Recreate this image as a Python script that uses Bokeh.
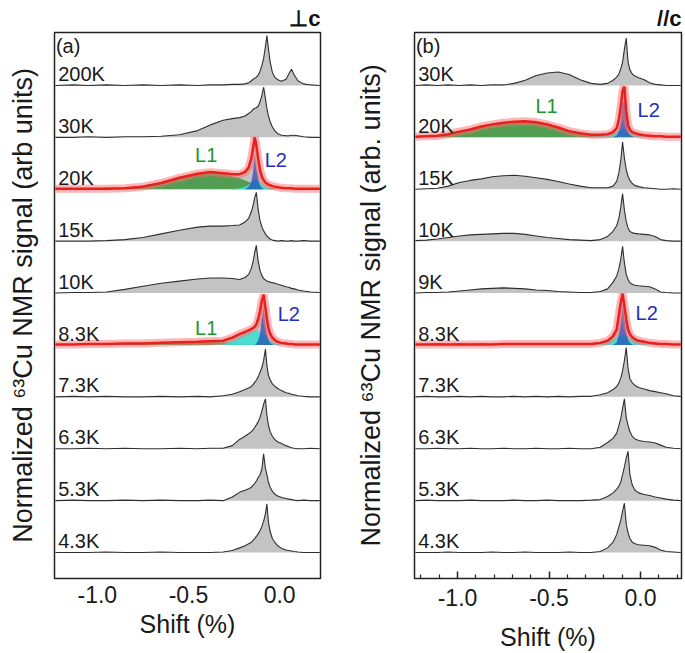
import numpy as np
from bokeh.plotting import figure
from bokeh.layouts import row
from bokeh.models import FixedTicker, Label, CustomJSTickFormatter
from bokeh.embed import file_html
from bokeh.resources import INLINE
from bokeh.core.properties import value

FONT = "Liberation Sans"

# ---------------- panel (a): H perpendicular to c ----------------
XA = [-1.23, -1.13, -1.05, -0.95, -0.85, -0.75, -0.65, -0.55, -0.45, -0.38,
      -0.31, -0.26, -0.22, -0.19, -0.17, -0.155, -0.145, -0.137, -0.128, -0.118,
      -0.108, -0.098, -0.088, -0.078, -0.07, -0.062, -0.052, -0.04, -0.025, -0.01,
      0.01, 0.035, 0.05, 0.065, 0.08, 0.1, 0.13, 0.17, 0.22]
A_TEMPS = ["200K", "30K", "20K", "15K", "10K", "8.3K", "7.3K", "6.3K", "5.3K", "4.3K"]

A_200K = [0.0, 0.01, 0.0, 0.01, 0.0, 0.01, 0.0, 0.01, 0.0, 0.01,
          0.01, 0.02, 0.02, 0.03, 0.05, 0.09, 0.12, 0.14, 0.16, 0.2,
          0.27, 0.38, 0.52, 0.75, 0.96, 0.72, 0.45, 0.25, 0.15, 0.11,
          0.08, 0.12, 0.22, 0.31, 0.2, 0.09, 0.03, 0.01, 0.0]
A_30K = [0.0, 0.0, 0.01, 0.0, 0.01, 0.01, 0.02, 0.05, 0.13, 0.24,
         0.33, 0.36, 0.38, 0.41, 0.46, 0.5, 0.54, 0.56, 0.57, 0.6,
         0.68, 0.8, 0.97, 0.75, 0.55, 0.42, 0.3, 0.2, 0.12, 0.07,
         0.04, 0.03, 0.03, 0.04, 0.04, 0.03, 0.01, 0.0, 0.0]
A_20K = [0.01, 0.0, 0.01, 0.02, 0.02, 0.06, 0.12, 0.21, 0.3, 0.33,
         0.31, 0.3, 0.3, 0.34, 0.43, 0.6, 0.8, 0.98, 0.84, 0.58,
         0.37, 0.25, 0.18, 0.13, 0.1, 0.09, 0.07, 0.06, 0.04, 0.04,
         0.03, 0.02, 0.01, 0.02, 0.01, 0.01, 0.0, 0.01, 0.0]
A_15K = [0.0, 0.0, 0.0, 0.01, 0.03, 0.07, 0.14, 0.21, 0.27, 0.29,
         0.29, 0.3, 0.31, 0.37, 0.44, 0.57, 0.7, 0.84, 0.94, 0.62,
         0.4, 0.28, 0.2, 0.14, 0.1, 0.07, 0.04, 0.02, 0.01, 0.0,
         0.01, 0.0, 0.0, 0.01, 0.0, 0.0, 0.01, 0.0, 0.0]
A_10K = [0.0, 0.01, 0.01, 0.02, 0.07, 0.13, 0.19, 0.23, 0.27, 0.29,
         0.29, 0.28, 0.26, 0.3, 0.36, 0.48, 0.62, 0.78, 0.92, 0.62,
         0.44, 0.34, 0.28, 0.25, 0.23, 0.22, 0.21, 0.2, 0.19, 0.17,
         0.15, 0.12, 0.11, 0.09, 0.08, 0.06, 0.04, 0.02, 0.01]
A_8K3 = [0.01, 0.01, 0.02, 0.02, 0.03, 0.03, 0.04, 0.05, 0.06, 0.07,
         0.08, 0.13, 0.2, 0.25, 0.28, 0.3, 0.33, 0.35, 0.4, 0.5,
         0.65, 0.84, 0.96, 0.72, 0.5, 0.33, 0.22, 0.14, 0.09, 0.06,
         0.04, 0.03, 0.02, 0.02, 0.01, 0.01, 0.0, 0.01, 0.0]
A_7K3 = [0.0, 0.01, 0.0, 0.01, 0.0, 0.0, 0.01, 0.0, 0.01, 0.0,
         0.02, 0.05, 0.1, 0.14, 0.17, 0.2, 0.24, 0.28, 0.32, 0.38,
         0.47, 0.56, 0.7, 0.92, 0.6, 0.42, 0.33, 0.25, 0.2, 0.16,
         0.12, 0.08, 0.07, 0.05, 0.04, 0.02, 0.01, 0.0, 0.0]
A_6K3 = [0.0, 0.0, 0.01, 0.0, 0.01, 0.0, 0.0, 0.01, 0.0, 0.01,
         0.01, 0.06, 0.18, 0.24, 0.29, 0.33, 0.37, 0.41, 0.46, 0.52,
         0.6, 0.72, 0.86, 0.96, 0.65, 0.46, 0.33, 0.24, 0.17, 0.13,
         0.1, 0.06, 0.04, 0.02, 0.01, 0.0, 0.0, 0.01, 0.0]
A_5K3 = [0.0, 0.01, 0.0, 0.0, 0.01, 0.0, 0.01, 0.0, 0.0, 0.01,
         0.0, 0.07, 0.16, 0.2, 0.23, 0.26, 0.3, 0.33, 0.38, 0.44,
         0.5, 0.6, 0.9, 0.62, 0.5, 0.36, 0.26, 0.18, 0.12, 0.09,
         0.06, 0.04, 0.03, 0.02, 0.01, 0.0, 0.01, 0.0, 0.0]
A_4K3 = [0.0, 0.0, 0.0, 0.01, 0.0, 0.0, 0.01, 0.0, 0.0, 0.0,
         0.01, 0.04, 0.09, 0.13, 0.17, 0.2, 0.24, 0.27, 0.31, 0.36,
         0.42, 0.5, 0.6, 0.75, 0.94, 0.6, 0.4, 0.27, 0.19, 0.13,
         0.08, 0.05, 0.04, 0.03, 0.02, 0.01, 0.0, 0.0, 0.0]

# fits of panel (a)
A_20K_FIT = [0.01, 0.01, 0.01, 0.01, 0.02, 0.05, 0.12, 0.22, 0.3, 0.33,
             0.31, 0.29, 0.29, 0.33, 0.42, 0.6, 0.82, 1.0, 0.85, 0.6,
             0.38, 0.25, 0.18, 0.13, 0.11, 0.09, 0.08, 0.06, 0.05, 0.04,
             0.03, 0.02, 0.02, 0.02, 0.01, 0.01, 0.01, 0.01, 0.01]
A_20K_L1 = [0.01, 0.01, 0.01, 0.01, 0.02, 0.05, 0.12, 0.22, 0.3, 0.32,
            0.29, 0.25, 0.21, 0.17, 0.14, 0.12, 0.11, 0.1, 0.08, 0.07,
            0.06, 0.05, 0.04, 0.03, 0.03, 0.02, 0.02, 0.01, 0.01, 0.0,
            0, 0, 0, 0, 0, 0, 0, 0, 0]
A_20K_BROAD = [0, 0, 0, 0, 0, 0, 0, 0, 0, 0,
               0, 0, 0.02, 0.05, 0.09, 0.13, 0.17, 0.2, 0.19, 0.16,
               0.13, 0.1, 0.07, 0.05, 0.03, 0.02, 0.01, 0, 0, 0,
               0, 0, 0, 0, 0, 0, 0, 0, 0]
A_20K_L2 = [0, 0, 0, 0, 0, 0, 0, 0, 0, 0,
            0, 0, 0, 0, 0.05, 0.15, 0.35, 0.67, 0.4, 0.2,
            0.08, 0.03, 0, 0, 0, 0, 0, 0, 0, 0,
            0, 0, 0, 0, 0, 0, 0, 0, 0]
A_8K3_FIT = [0.01, 0.01, 0.02, 0.02, 0.03, 0.03, 0.04, 0.05, 0.06, 0.07,
             0.08, 0.14, 0.21, 0.25, 0.28, 0.31, 0.33, 0.35, 0.4, 0.5,
             0.65, 0.85, 0.97, 0.72, 0.5, 0.33, 0.22, 0.14, 0.09, 0.06,
             0.04, 0.03, 0.02, 0.02, 0.01, 0.01, 0.01, 0.01, 0.01]
A_8K3_L1 = [0.01, 0.01, 0.02, 0.02, 0.03, 0.03, 0.04, 0.05, 0.05, 0.05,
            0.05, 0.04, 0.03, 0.02, 0.02, 0.01, 0.01, 0, 0, 0,
            0, 0, 0, 0, 0, 0, 0, 0, 0, 0,
            0, 0, 0, 0, 0, 0, 0, 0, 0]
A_8K3_BROAD = [0, 0, 0, 0, 0, 0, 0, 0, 0, 0,
               0.02, 0.09, 0.16, 0.21, 0.24, 0.26, 0.27, 0.28, 0.28, 0.27,
               0.25, 0.23, 0.2, 0.17, 0.14, 0.11, 0.08, 0.05, 0.03, 0.02,
               0.01, 0, 0, 0, 0, 0, 0, 0, 0]
A_8K3_L2 = [0, 0, 0, 0, 0, 0, 0, 0, 0, 0,
            0, 0, 0, 0, 0, 0, 0, 0, 0.03, 0.08,
            0.2, 0.5, 0.71, 0.38, 0.2, 0.1, 0.04, 0.01, 0, 0,
            0, 0, 0, 0, 0, 0, 0, 0, 0]

# ---------------- panel (b): H parallel to c ----------------
XB = [-1.23, -1.17, -1.11, -1.05, -0.99, -0.93, -0.87, -0.81, -0.75, -0.69,
      -0.63, -0.57, -0.51, -0.45, -0.39, -0.33, -0.27, -0.22, -0.18, -0.15,
      -0.13, -0.118, -0.108, -0.098, -0.088, -0.078, -0.068, -0.058, -0.045, -0.03,
      -0.01, 0.02, 0.05, 0.08, 0.11, 0.14, 0.18, 0.22]
B_TEMPS = ["30K", "20K", "15K", "10K", "9K", "8.3K", "7.3K", "6.3K", "5.3K", "4.3K"]

B_30K = [0.0, 0.01, 0.0, 0.01, 0.0, 0.01, 0.0, 0.01, 0.01, 0.04,
         0.1, 0.19, 0.24, 0.26, 0.21, 0.11, 0.04, 0.02, 0.04, 0.1,
         0.16, 0.22, 0.32, 0.45, 0.7, 0.91, 0.45, 0.3, 0.22, 0.18,
         0.15, 0.11, 0.05, 0.02, 0.01, 0.0, 0.0, 0.0]
B_20K = [0.01, 0.02, 0.03, 0.06, 0.1, 0.15, 0.2, 0.25, 0.28, 0.3,
         0.3, 0.29, 0.25, 0.19, 0.12, 0.08, 0.05, 0.05, 0.06, 0.1,
         0.17, 0.34, 0.58, 0.88, 0.96, 0.5, 0.24, 0.15, 0.1, 0.08,
         0.06, 0.04, 0.03, 0.02, 0.02, 0.01, 0.01, 0.01]
B_15K = [0.0, 0.01, 0.02, 0.06, 0.13, 0.17, 0.2, 0.24, 0.26, 0.27,
         0.25, 0.22, 0.19, 0.15, 0.1, 0.06, 0.03, 0.03, 0.03, 0.06,
         0.15, 0.32, 0.55, 0.91, 0.6, 0.38, 0.25, 0.17, 0.11, 0.07,
         0.05, 0.03, 0.02, 0.01, 0.0, 0.0, 0.01, 0.0]
B_10K = [0.01, 0.02, 0.04, 0.07, 0.1, 0.12, 0.13, 0.14, 0.15, 0.15,
         0.13, 0.1, 0.07, 0.05, 0.03, 0.02, 0.01, 0.03, 0.09, 0.19,
         0.3, 0.45, 0.65, 0.91, 0.6, 0.38, 0.25, 0.19, 0.16, 0.15,
         0.14, 0.13, 0.12, 0.09, 0.03, 0.01, 0.0, 0.0]
B_9K = [0.0, 0.01, 0.01, 0.02, 0.04, 0.06, 0.08, 0.09, 0.1, 0.09,
        0.08, 0.06, 0.05, 0.03, 0.02, 0.01, 0.01, 0.03, 0.08, 0.21,
        0.33, 0.47, 0.65, 0.9, 0.58, 0.36, 0.26, 0.2, 0.17, 0.15,
        0.14, 0.13, 0.12, 0.08, 0.02, 0.01, 0.0, 0.0]
B_8K3 = [0.01, 0.01, 0.02, 0.01, 0.02, 0.01, 0.02, 0.01, 0.02, 0.01,
         0.02, 0.01, 0.02, 0.01, 0.02, 0.02, 0.02, 0.04, 0.08, 0.16,
         0.29, 0.57, 0.8, 0.97, 0.74, 0.5, 0.3, 0.21, 0.15, 0.11,
         0.08, 0.06, 0.04, 0.03, 0.02, 0.02, 0.01, 0.01]
B_7K3 = [0.0, 0.01, 0.0, 0.0, 0.01, 0.0, 0.01, 0.0, 0.0, 0.01,
         0.0, 0.01, 0.0, 0.01, 0.0, 0.01, 0.01, 0.04, 0.08, 0.14,
         0.2, 0.27, 0.36, 0.5, 0.7, 0.95, 0.55, 0.35, 0.27, 0.22,
         0.18, 0.15, 0.12, 0.1, 0.08, 0.06, 0.02, 0.01]
B_6K3 = [0.0, 0.0, 0.01, 0.0, 0.0, 0.01, 0.0, 0.0, 0.01, 0.0,
         0.0, 0.01, 0.0, 0.0, 0.01, 0.0, 0.0, 0.03, 0.12, 0.2,
         0.3, 0.45, 0.58, 0.78, 0.96, 0.6, 0.45, 0.33, 0.24, 0.19,
         0.16, 0.14, 0.13, 0.11, 0.07, 0.03, 0.01, 0.0]
B_5K3 = [0.0, 0.01, 0.0, 0.0, 0.0, 0.01, 0.0, 0.0, 0.0, 0.01,
         0.0, 0.0, 0.01, 0.0, 0.0, 0.0, 0.01, 0.02, 0.08, 0.15,
         0.22, 0.28, 0.36, 0.5, 0.65, 0.82, 0.95, 0.5, 0.3, 0.2,
         0.15, 0.12, 0.1, 0.07, 0.05, 0.03, 0.01, 0.0]
B_4K3 = [0.0, 0.0, 0.0, 0.01, 0.0, 0.0, 0.0, 0.01, 0.0, 0.0,
         0.01, 0.0, 0.0, 0.0, 0.01, 0.0, 0.0, 0.02, 0.09, 0.2,
         0.35, 0.5, 0.62, 0.8, 0.95, 0.55, 0.38, 0.27, 0.2, 0.17,
         0.15, 0.14, 0.13, 0.1, 0.05, 0.02, 0.01, 0.0]

# fits of panel (b)
B_20K_FIT = [0.01, 0.02, 0.03, 0.06, 0.11, 0.15, 0.21, 0.25, 0.28, 0.3,
             0.31, 0.29, 0.25, 0.19, 0.12, 0.08, 0.05, 0.05, 0.06, 0.1,
             0.18, 0.35, 0.6, 0.9, 0.98, 0.5, 0.24, 0.15, 0.1, 0.08,
             0.06, 0.04, 0.03, 0.02, 0.02, 0.01, 0.01, 0.01]
B_20K_L1 = [0.01, 0.02, 0.03, 0.06, 0.11, 0.15, 0.21, 0.25, 0.28, 0.3,
            0.31, 0.29, 0.25, 0.19, 0.12, 0.08, 0.05, 0.03, 0.02, 0.01,
            0.01, 0, 0, 0, 0, 0, 0, 0, 0, 0,
            0, 0, 0, 0, 0, 0, 0, 0]
B_20K_BROAD = [0, 0, 0, 0, 0, 0, 0, 0, 0, 0,
               0, 0, 0, 0, 0, 0, 0, 0.02, 0.04, 0.07,
               0.1, 0.12, 0.14, 0.15, 0.15, 0.14, 0.12, 0.1, 0.08, 0.06,
               0.04, 0.02, 0.01, 0, 0, 0, 0, 0]
B_20K_L2 = [0, 0, 0, 0, 0, 0, 0, 0, 0, 0,
            0, 0, 0, 0, 0, 0, 0, 0, 0, 0,
            0.04, 0.12, 0.3, 0.65, 0.72, 0.3, 0.12, 0.05, 0.02, 0,
            0, 0, 0, 0, 0, 0, 0, 0]
B_8K3_FIT = [0.01, 0.01, 0.01, 0.01, 0.01, 0.01, 0.01, 0.01, 0.02, 0.02,
             0.02, 0.02, 0.02, 0.02, 0.02, 0.02, 0.02, 0.04, 0.08, 0.17,
             0.3, 0.59, 0.82, 0.99, 0.75, 0.5, 0.3, 0.21, 0.15, 0.11,
             0.08, 0.06, 0.04, 0.03, 0.02, 0.02, 0.01, 0.01]
B_8K3_BROAD = [0, 0, 0, 0, 0, 0, 0, 0, 0, 0,
               0, 0, 0, 0, 0, 0, 0, 0.03, 0.07, 0.12,
               0.15, 0.17, 0.18, 0.19, 0.18, 0.17, 0.15, 0.13, 0.1, 0.08,
               0.05, 0.03, 0.01, 0, 0, 0, 0, 0]
B_8K3_L2 = [0, 0, 0, 0, 0, 0, 0, 0, 0, 0,
            0, 0, 0, 0, 0, 0, 0, 0, 0, 0,
            0.05, 0.2, 0.45, 0.75, 0.5, 0.25, 0.1, 0.04, 0.01, 0,
            0, 0, 0, 0, 0, 0, 0, 0]

TICKS = [-1.0, -0.5, 0.0]
MINOR_TICKS = [-1.2, -1.1, -0.9, -0.8, -0.7, -0.6, -0.4, -0.3, -0.2, -0.1, 0.1, 0.2]
X_TITLE = "Shift (%)"

GREY_FILL = "#c3c3c3"
GREY_LINE = "#2e2e2e"
GREEN = "#3d963d"
CYAN = "#40e0d0"
BLUE = "#1a2ab0"
RED = "#e8201e"
RED_GLOW = "#ff6b6b"
L1_COLOR = "#22962a"
L2_COLOR = "#2630b8"

X_RANGE = (-1.235, 0.224)
Y_RANGE = (-0.5, 10.02)


def make_panel(xs, temps, spectra, fits, width, left, right, ylabel,
               ylabel_standoff, xlabel_standoff, tick_standoff, show_ticks,
               tag, field, extra_labels):
    p = figure(width=width, height=653, x_range=X_RANGE, y_range=Y_RANGE,
               output_backend="svg", toolbar_location=None,
               min_border_left=left, min_border_right=right,
               min_border_top=32, min_border_bottom=74)
    p.xgrid.visible = False
    p.ygrid.visible = False
    p.background_fill_color = "white"
    p.border_fill_color = "white"
    p.outline_line_color = "#222222"
    p.outline_line_width = 1.5

    # field direction as a right-aligned title above the frame
    p.title.text = field
    p.title.align = "right"
    p.title.text_font = FONT
    p.title.text_font_size = "22px"
    p.title.text_font_style = "bold"
    p.title.text_color = "#111111"
    p.title.standoff = 4

    x = np.array(xs)
    n = len(temps)
    for i, vals in enumerate(spectra):
        off = n - 1 - i
        y = off + np.array(vals)
        p.varea(x=x, y1=off, y2=y, fill_color=GREY_FILL)
        p.line(x=x, y=y, line_color=GREY_LINE, line_width=1.1)

    for i, (fit, l1, broad, l2) in fits.items():
        off = n - 1 - i
        if l1 is not None:
            p.varea(x=x, y1=off, y2=off + np.array(l1), fill_color=GREEN,
                    fill_alpha=0.85)
        p.varea(x=x, y1=off, y2=off + np.array(broad), fill_color=CYAN,
                fill_alpha=0.9)
        p.varea(x=x, y1=off, y2=off + np.array(l2), fill_color=BLUE,
                fill_alpha=0.6)
        p.line(x=x, y=off + np.array(fit), line_color=RED_GLOW,
               line_alpha=0.5, line_width=8)
        p.line(x=x, y=off + np.array(fit), line_color=RED, line_width=2.5)

    # temperature labels
    p.text(x=[X_RANGE[0] + 0.02] * n, y=[n - 1 - i + 0.22 for i in range(n)],
           text=temps, text_font=value(FONT), text_font_size="20px",
           text_color="#1a1a1a", text_baseline="alphabetic")

    for (tx, ty, tt, tc) in extra_labels:
        p.add_layout(Label(x=tx, y=ty, text=tt, text_color=tc,
                           text_font=FONT, text_font_size="20px"))

    p.add_layout(Label(x=X_RANGE[0] + 0.008, y=9.97, text=tag,
                       text_font=FONT, text_font_size="20px",
                       text_baseline="top", text_color="#1a1a1a"))

    # x axis
    xa = p.xaxis[0]
    xa.ticker = FixedTicker(ticks=TICKS, minor_ticks=MINOR_TICKS if show_ticks else [])
    xa.formatter = CustomJSTickFormatter(code="return tick.toFixed(1)")
    xa.axis_line_color = None
    xa.major_label_text_font = FONT
    xa.major_label_text_font_size = "23px"
    xa.major_label_text_color = "#1a1a1a"
    xa.major_label_standoff = tick_standoff
    xa.axis_label = X_TITLE
    xa.axis_label_text_font = FONT
    xa.axis_label_text_font_size = "25px"
    xa.axis_label_text_font_style = "normal"
    xa.axis_label_text_color = "#1a1a1a"
    xa.axis_label_standoff = xlabel_standoff
    if show_ticks:
        xa.major_tick_in = 7
        xa.major_tick_out = 0
        xa.minor_tick_in = 4
        xa.minor_tick_out = 0
        xa.major_tick_line_color = "#222222"
        xa.minor_tick_line_color = "#222222"
        xa.major_tick_line_width = 1.5
        xa.minor_tick_line_width = 1.2
    else:
        xa.major_tick_line_color = None
        xa.minor_tick_line_color = None
        xa.major_tick_out = 0
        xa.major_tick_in = 0

    ya = p.yaxis[0]
    ya.ticker = FixedTicker(ticks=[])
    ya.axis_line_color = None
    ya.major_tick_line_color = None
    ya.minor_tick_line_color = None
    ya.major_tick_out = 0
    ya.major_label_standoff = 0
    ya.axis_label = ylabel
    ya.axis_label_text_font = FONT
    ya.axis_label_text_font_size = "27px"
    ya.axis_label_text_font_style = "normal"
    ya.axis_label_text_color = "#1a1a1a"
    ya.axis_label_standoff = ylabel_standoff
    return p


pa = make_panel(
    XA, A_TEMPS,
    [A_200K, A_30K, A_20K, A_15K, A_10K, A_8K3, A_7K3, A_6K3, A_5K3, A_4K3],
    {2: (A_20K_FIT, A_20K_L1, A_20K_BROAD, A_20K_L2),
     5: (A_8K3_FIT, A_8K3_L1, A_8K3_BROAD, A_8K3_L2)},
    width=340, left=54, right=20,
    ylabel="Normalized \u2076\u00b3Cu NMR signal (arb units)",
    ylabel_standoff=17, xlabel_standoff=4, tick_standoff=7, show_ticks=False,
    tag="(a)", field="\u22a5c",
    extra_labels=[(-0.464, 7.44, "L1", L1_COLOR), (-0.082, 7.35, "L2", L2_COLOR),
                  (-0.464, 4.12, "L1", L1_COLOR), (-0.011, 4.38, "L2", L2_COLOR)])

pb = make_panel(
    XB, B_TEMPS,
    [B_30K, B_20K, B_15K, B_10K, B_9K, B_8K3, B_7K3, B_6K3, B_5K3, B_4K3],
    {1: (B_20K_FIT, B_20K_L1, B_20K_BROAD, B_20K_L2),
     5: (B_8K3_FIT, None, B_8K3_BROAD, B_8K3_L2)},
    width=345, left=74, right=4,
    ylabel="Normalized \u2076\u00b3Cu NMR signal (arb. units)",
    ylabel_standoff=29, xlabel_standoff=14, tick_standoff=10, show_ticks=True,
    tag="(b)", field="//c",
    extra_labels=[(-0.574, 8.4, "L1", L1_COLOR), (-0.016, 8.31, "L2", L2_COLOR),
                  (-0.027, 4.4, "L2", L2_COLOR)])

layout = row(pa, pb)
open("out.html", "w").write(file_html(layout, INLINE))
